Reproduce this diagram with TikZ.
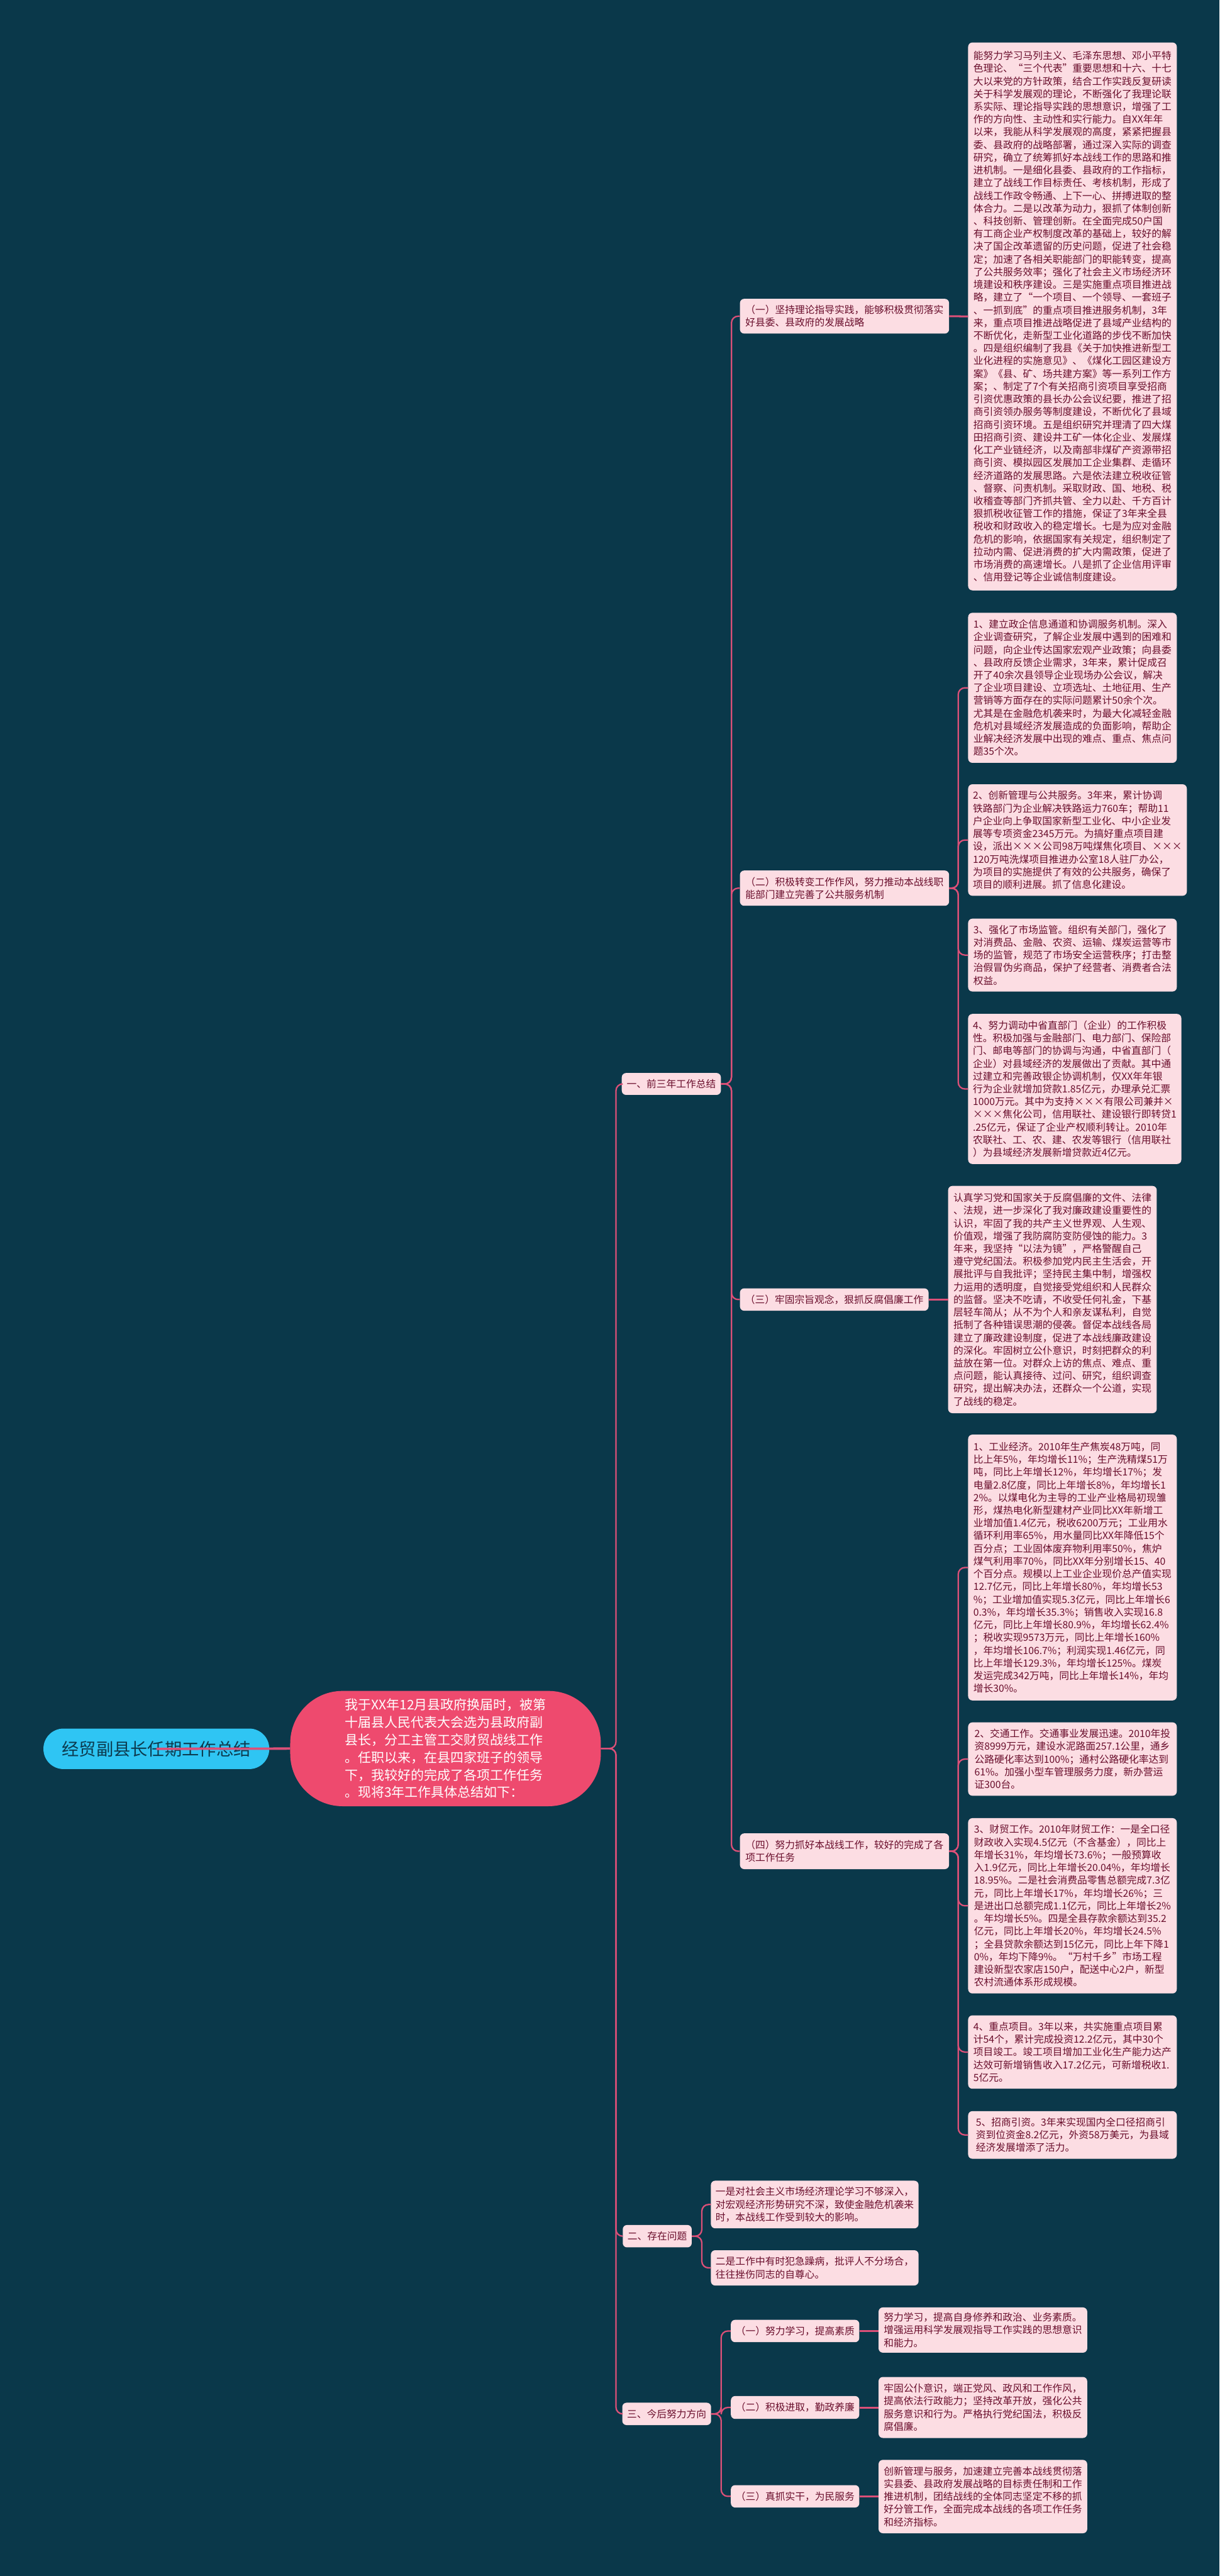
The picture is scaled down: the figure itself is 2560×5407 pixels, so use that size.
\documentclass[tikz,border=0pt]{standalone}
\usepackage{fontspec}
\setmainfont{Noto Sans CJK SC}
\definecolor{bg}{HTML}{0A384A}
\definecolor{boxpink}{HTML}{FCDDE3}
\definecolor{txtred}{HTML}{6A0E2C}
\definecolor{linepink}{HTML}{DC5078}
\definecolor{centralred}{HTML}{EE4A6E}
\definecolor{rootblue}{HTML}{2FC5F3}
\definecolor{roottxt}{HTML}{0C3A4E}
\newcommand{\bodyfnt}{\fontsize{20.8pt}{26.7pt}\selectfont}
\tikzset{
  tbox/.style={fill=boxpink, rounded corners=9, text=txtred, align=left, inner xsep=10, inner ysep=0, anchor=north west, font=\bodyfnt},
  conn/.style={draw=linepink, line width=3, rounded corners=14},
  sconn/.style={draw=linepink, line width=4},
}
\begin{document}
\begin{tikzpicture}[x=1pt,y=-1pt]
\useasboundingbox (0,0) rectangle (2560,5407);
\fill[bg] (0,0) rectangle (2560,5407);

% root and central
\node[fill=rootblue, rounded corners=42, text=roottxt, font=\fontsize{36pt}{42pt}\selectfont, minimum width=474, minimum height=85, inner sep=0, anchor=north west] (R) at (91,3628) {经贸副县长任期工作总结};
\node[fill=centralred, rounded corners=110, text=white, align=left, font=\fontsize{27.7pt}{36.7pt}\selectfont, minimum width=652, minimum height=242, inner sep=0, anchor=north west] (C) at (609,3549) {我于XX年12月县政府换届时，被第\\十届县人民代表大会选为县政府副\\县长，分工主管工交财贸战线工作\\。任职以来，在县四家班子的领导\\下，我较好的完成了各项工作任务\\。现将3年工作具体总结如下：};
\draw[sconn, line width=5] (R.center) -- (C.west);

% first level labels
\node[tbox, minimum width=208, minimum height=46] (L0) at (1305,2252) {一、前三年工作总结};
\node[tbox, minimum width=143, minimum height=47] (L5) at (1307,4670) {二、存在问题};
\node[tbox, minimum width=186, minimum height=47] (L6) at (1306,5043) {三、今后努力方向};

% second level labels under 一
\node[tbox, minimum width=439, minimum height=73] (L1) at (1553,627) {（一）坚持理论指导实践，能够积极贯彻落实\\好县委、县政府的发展战略};
\node[tbox, minimum width=439, minimum height=74] (L2) at (1553,1827) {（二）积极转变工作作风，努力推动本战线职\\能部门建立完善了公共服务机制};
\node[tbox, minimum width=396, minimum height=47] (L3) at (1553,2704) {（三）牢固宗旨观念，狠抓反腐倡廉工作};
\node[tbox, minimum width=439, minimum height=75] (L4) at (1553,3848) {（四）努力抓好本战线工作，较好的完成了各\\项工作任务};

% (一) text
\node[tbox, minimum width=438, minimum height=1150] (T) at (2032,89) {能努力学习马列主义、毛泽东思想、邓小平特\\色理论、“三个代表”重要思想和十六、十七\\大以来党的方针政策，结合工作实践反复研读\\关于科学发展观的理论，不断强化了我理论联\\系实际、理论指导实践的思想意识，增强了工\\作的方向性、主动性和实行能力。自XX年年\\以来，我能从科学发展观的高度，紧紧把握县\\委、县政府的战略部署，通过深入实际的调查\\研究，确立了统筹抓好本战线工作的思路和推\\进机制。一是细化县委、县政府的工作指标，\\建立了战线工作目标责任、考核机制，形成了\\战线工作政令畅通、上下一心、拼搏进取的整\\体合力。二是以改革为动力，狠抓了体制创新\\、科技创新、管理创新。在全面完成50户国\\有工商企业产权制度改革的基础上，较好的解\\决了国企改革遗留的历史问题，促进了社会稳\\定；加速了各相关职能部门的职能转变，提高\\了公共服务效率；强化了社会主义市场经济环\\境建设和秩序建设。三是实施重点项目推进战\\略，建立了“一个项目、一个领导、一套班子\\、一抓到底”的重点项目推进服务机制，3年\\来，重点项目推进战略促进了县域产业结构的\\不断优化，走新型工业化道路的步伐不断加快\\。四是组织编制了我县《关于加快推进新型工\\业化进程的实施意见》、《煤化工园区建设方\\案》《县、矿、场共建方案》等一系列工作方\\案；、制定了7个有关招商引资项目享受招商\\引资优惠政策的县长办公会议纪要，推进了招\\商引资领办服务等制度建设，不断优化了县域\\招商引资环境。五是组织研究并理清了四大煤\\田招商引资、建设井工矿一体化企业、发展煤\\化工产业链经济，以及南部非煤矿产资源带招\\商引资、模拟园区发展加工企业集群、走循环\\经济道路的发展思路。六是依法建立税收征管\\、督察、问责机制。采取财政、国、地税、税\\收稽查等部门齐抓共管、全力以赴、千方百计\\狠抓税收征管工作的措施，保证了3年来全县\\税收和财政收入的稳定增长。七是为应对金融\\危机的影响，依据国家有关规定，组织制定了\\拉动内需、促进消费的扩大内需政策，促进了\\市场消费的高速增长。八是抓了企业信用评审\\、信用登记等企业诚信制度建设。};

% (二) items
\node[tbox, minimum width=438, minimum height=315] (I21) at (2032,1286) {1、建立政企信息通道和协调服务机制。深入\\企业调查研究，了解企业发展中遇到的困难和\\问题，向企业传达国家宏观产业政策；向县委\\、县政府反馈企业需求，3年来，累计促成召\\开了40余次县领导企业现场办公会议，解决\\了企业项目建设、立项选址、土地征用、生产\\营销等方面存在的实际问题累计50余个次。\\尤其是在金融危机袭来时，为最大化减轻金融\\危机对县域经济发展造成的负面影响，帮助企\\业解决经济发展中出现的难点、重点、焦点问\\题35个次。};
\node[tbox, minimum width=438, minimum height=234] (I22) at (2032,1646) {2、创新管理与公共服务。3年来，累计协调\\铁路部门为企业解决铁路运力760车；帮助11\\户企业向上争取国家新型工业化、中小企业发\\展等专项资金2345万元。为搞好重点项目建\\设，派出×××公司98万吨煤焦化项目、×××\\120万吨洗煤项目推进办公室18人驻厂办公，\\为项目的实施提供了有效的公共服务，确保了\\项目的顺利进展。抓了信息化建设。};
\node[tbox, minimum width=438, minimum height=153] (I23) at (2032,1928) {3、强化了市场监管。组织有关部门，强化了\\对消费品、金融、农资、运输、煤炭运营等市\\场的监管，规范了市场安全运营秩序；打击整\\治假冒伪劣商品，保护了经营者、消费者合法\\权益。};
\node[tbox, minimum width=438, minimum height=315] (I24) at (2032,2128) {4、努力调动中省直部门（企业）的工作积极\\性。积极加强与金融部门、电力部门、保险部\\门、邮电等部门的协调与沟通，中省直部门（\\企业）对县域经济的发展做出了贡献。其中通\\过建立和完善政银企协调机制，仅XX年年银\\行为企业就增加贷款1.85亿元，办理承兑汇票\\1000万元。其中为支持×××有限公司兼并×\\×××焦化公司，信用联社、建设银行即转贷1\\.25亿元，保证了企业产权顺利转让。2010年\\农联社、工、农、建、农发等银行（信用联社\\）为县域经济发展新增贷款近4亿元。};

% (三) text
\node[tbox, minimum width=438, minimum height=477] (I3) at (1990,2489) {认真学习党和国家关于反腐倡廉的文件、法律\\、法规，进一步深化了我对廉政建设重要性的\\认识，牢固了我的共产主义世界观、人生观、\\价值观，增强了我防腐防变防侵蚀的能力。3\\年来，我坚持“以法为镜”，严格警醒自己\\遵守党纪国法。积极参加党内民主生活会，开\\展批评与自我批评；坚持民主集中制，增强权\\力运用的透明度，自觉接受党组织和人民群众\\的监督。坚决不吃请，不收受任何礼金，下基\\层轻车简从；从不为个人和亲友谋私利，自觉\\抵制了各种错误思潮的侵袭。督促本战线各局\\建立了廉政建设制度，促进了本战线廉政建设\\的深化。牢固树立公仆意识，时刻把群众的利\\益放在第一位。对群众上访的焦点、难点、重\\点问题，能认真接待、过问、研究，组织调查\\研究，提出解决办法，还群众一个公道，实现\\了战线的稳定。};

% (四) items
\node[tbox, minimum width=438, minimum height=558] (I41) at (2032,3011) {1、工业经济。2010年生产焦炭48万吨，同\\比上年5\%，年均增长11\%；生产洗精煤51万\\吨，同比上年增长12\%，年均增长17\%；发\\电量2.8亿度，同比上年增长8\%，年均增长1\\2\%。以煤电化为主导的工业产业格局初现雏\\形，煤热电化新型建材产业同比XX年新增工\\业增加值1.4亿元，税收6200万元；工业用水\\循环利用率65\%，用水量同比XX年降低15个\\百分点；工业固体废弃物利用率50\%，焦炉\\煤气利用率70\%，同比XX年分别增长15、40\\个百分点。规模以上工业企业现价总产值实现\\12.7亿元，同比上年增长80\%，年均增长53\\\%；工业增加值实现5.3亿元，同比上年增长6\\0.3\%，年均增长35.3\%；销售收入实现16.8\\亿元，同比上年增长80.9\%，年均增长62.4\%\\；税收实现9573万元，同比上年增长160\%\\，年均增长106.7\%；利润实现1.46亿元，同\\比上年增长129.3\%，年均增长125\%。煤炭\\发运完成342万吨，同比上年增长14\%，年均\\增长30\%。};
\node[tbox, minimum width=438, minimum height=154] (I42) at (2032,3615) {2、交通工作。交通事业发展迅速。2010年投\\资8999万元，建设水泥路面257.1公里，通乡\\公路硬化率达到100\%；通村公路硬化率达到\\61\%。加强小型车管理服务力度，新办营运\\证300台。};
\node[tbox, minimum width=438, minimum height=368] (I43) at (2032,3816) {3、财贸工作。2010年财贸工作：一是全口径\\财政收入实现4.5亿元（不含基金），同比上\\年增长31\%，年均增长73.6\%；一般预算收\\入1.9亿元，同比上年增长20.04\%，年均增长\\18.95\%。二是社会消费品零售总额完成7.3亿\\元，同比上年增长17\%，年均增长26\%；三\\是进出口总额完成1.1亿元，同比上年增长2\%\\。年均增长5\%。四是全县存款余额达到35.2\\亿元，同比上年增长20\%，年均增长24.5\%\\；全县贷款余额达到15亿元，同比上年下降1\\0\%，年均下降9\%。“万村千乡”市场工程\\建设新型农家店150户，配送中心2户，新型\\农村流通体系形成规模。};
\node[tbox, minimum width=438, minimum height=154] (I44) at (2032,4230) {4、重点项目。3年以来，共实施重点项目累\\计54个，累计完成投资12.2亿元，其中30个\\项目竣工。竣工项目增加工业化生产能力达产\\达效可新增销售收入17.2亿元，可新增税收1.\\5亿元。};
\node[tbox, minimum width=438, minimum height=100] (I45) at (2032,4431) {5、招商引资。3年来实现国内全口径招商引\\资到位资金8.2亿元，外资58万美元，为县域\\经济发展增添了活力。};

% 二、存在问题 items
\node[tbox, minimum width=435, minimum height=100] (P1) at (1492,4577) {一是对社会主义市场经济理论学习不够深入，\\对宏观经济形势研究不深，致使金融危机袭来\\时，本战线工作受到较大的影响。};
\node[tbox, minimum width=435, minimum height=74] (P2) at (1492,4723) {二是工作中有时犯急躁病，批评人不分场合，\\往往挫伤同志的自尊心。};

% 三、今后努力方向
\node[tbox, minimum width=269, minimum height=47] (L61) at (1534,4869) {（一）努力学习，提高素质};
\node[tbox, minimum width=269, minimum height=48] (L62) at (1534,5029) {（二）积极进取，勤政养廉};
\node[tbox, minimum width=269, minimum height=47] (L63) at (1534,5216) {（三）真抓实干，为民服务};
\node[tbox, minimum width=438, minimum height=95] (T61) at (1844,4843) {努力学习，提高自身修养和政治、业务素质。\\增强运用科学发展观指导工作实践的思想意识\\和能力。};
\node[tbox, minimum width=438, minimum height=128] (T62) at (1844,4989) {牢固公仆意识，端正党风、政风和工作作风，\\提高依法行政能力；坚持改革开放，强化公共\\服务意识和行为。严格执行党纪国法，积极反\\腐倡廉。};
\node[tbox, minimum width=438, minimum height=154] (T63) at (1844,5163) {创新管理与服务，加速建立完善本战线贯彻落\\实县委、县政府发展战略的目标责任制和工作\\推进机制，团结战线的全体同志坚定不移的抓\\好分管工作，全面完成本战线的各项工作任务\\和经济指标。};

% connectors: central to first level
\draw[conn] (C.east) -- (1293,3670) |- (L0.west);
\draw[conn] (C.east) -- (1293,3670) |- (L5.west);
\draw[conn] (C.east) -- (1293,3670) |- (L6.west);
% 一 to its labels
\draw[conn] (L0.east) -- ++(22,0) |- (L1.west);
\draw[conn] (L0.east) -- ++(22,0) |- (L2.west);
\draw[conn] (L0.east) -- ++(22,0) |- (L3.west);
\draw[conn] (L0.east) -- ++(22,0) |- (L4.west);
% (一),(三)
\draw[sconn] (L1.east) -- (T.west);
\draw[sconn] (L3.east) -- (I3.west);
% (二)
\draw[conn] (L2.east) -- ++(19,0) |- (I21.west);
\draw[conn] (L2.east) -- ++(19,0) |- (I22.west);
\draw[conn] (L2.east) -- ++(19,0) |- (I23.west);
\draw[conn] (L2.east) -- ++(19,0) |- (I24.west);
% (四)
\draw[conn] (L4.east) -- ++(19,0) |- (I41.west);
\draw[conn] (L4.east) -- ++(19,0) |- (I42.west);
\draw[conn] (L4.east) -- ++(19,0) |- (I43.west);
\draw[conn] (L4.east) -- ++(19,0) |- (I44.west);
\draw[conn] (L4.east) -- ++(19,0) |- (I45.west);
% 二
\draw[conn] (L5.east) -- ++(21,0) |- (P1.west);
\draw[conn] (L5.east) -- ++(21,0) |- (P2.west);
% 三
\draw[conn] (L6.east) -- ++(21,0) |- (L61.west);
\draw[conn] (L6.east) -- ++(21,0) |- (L62.west);
\draw[conn] (L6.east) -- ++(21,0) |- (L63.west);
\draw[sconn] (L61.east) -- (L61.east -| T61.west);
\draw[sconn] (L62.east) -- (L62.east -| T62.west);
\draw[sconn] (L63.east) -- (L63.east -| T63.west);
\end{tikzpicture}
\end{document}
